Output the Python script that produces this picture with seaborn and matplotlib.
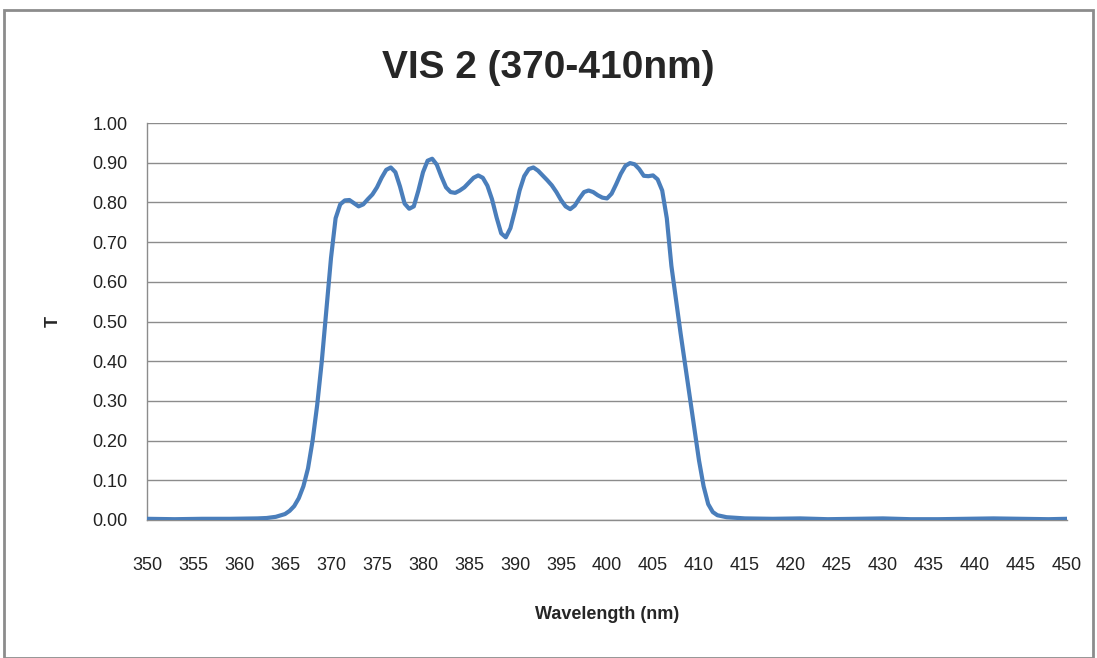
import matplotlib
matplotlib.use("Agg")
import matplotlib.pyplot as plt
import seaborn as sns
import pandas as pd
from matplotlib.patches import Rectangle

# ---- data ----
wavelength = [350, 353, 356, 359, 362, 363, 364, 365, 365.5, 366, 366.5, 367,
              367.5, 368, 368.5, 369, 369.5, 370, 370.5, 371, 371.5, 372, 372.5,
              373, 373.5, 374, 374.5, 375, 375.5, 376, 376.5, 377, 377.5, 378,
              378.5, 379, 379.5, 380, 380.5, 381, 381.5, 382, 382.5, 383, 383.5,
              384, 384.5, 385, 385.5, 386, 386.5, 387, 387.5, 388, 388.5, 389,
              389.5, 390, 390.5, 391, 391.5, 392, 392.5, 393, 393.5, 394, 394.5,
              395, 395.5, 396, 396.5, 397, 397.5, 398, 398.5, 399, 399.5, 400,
              400.5, 401, 401.5, 402, 402.5, 403, 403.5, 404, 404.5, 405, 405.5,
              406, 406.5, 407, 408, 409, 409.5, 410, 410.5, 411, 411.5, 412,
              413, 415, 418, 421, 424, 427, 430, 433, 436, 439, 442, 445, 448,
              450]
transmission = [0.003, 0.002, 0.003, 0.003, 0.004, 0.005, 0.008, 0.015, 0.023,
                0.035, 0.055, 0.085, 0.13, 0.20, 0.29, 0.40, 0.53, 0.66, 0.76,
                0.795, 0.805, 0.806, 0.798, 0.79, 0.795, 0.808, 0.82, 0.838,
                0.862, 0.882, 0.888, 0.876, 0.84, 0.797, 0.784, 0.79, 0.83,
                0.876, 0.905, 0.91, 0.895, 0.865, 0.838, 0.826, 0.824, 0.83,
                0.838, 0.85, 0.862, 0.868, 0.862, 0.842, 0.808, 0.762, 0.722,
                0.712, 0.735, 0.78, 0.83, 0.866, 0.884, 0.888, 0.88, 0.868,
                0.856, 0.843, 0.826, 0.806, 0.79, 0.783, 0.792, 0.81, 0.826,
                0.83, 0.826, 0.818, 0.812, 0.81, 0.822, 0.846, 0.872, 0.892,
                0.899, 0.896, 0.884, 0.867, 0.866, 0.868, 0.858, 0.83, 0.76,
                0.64, 0.47, 0.31, 0.23, 0.15, 0.085, 0.04, 0.02, 0.012, 0.007,
                0.004, 0.003, 0.004, 0.002, 0.003, 0.004, 0.002, 0.002, 0.003,
                0.004, 0.003, 0.002, 0.003]
x_ticks = list(range(350, 451, 5))
y_ticks = [0.0, 0.1, 0.2, 0.3, 0.4, 0.5, 0.6, 0.7, 0.8, 0.9, 1.0]

df = pd.DataFrame({"wl": wavelength, "T": transmission})

sns.set_style("white")
plt.rcParams['font.family'] = ['Liberation Sans Narrow', 'Liberation Sans', 'DejaVu Sans']

fig = plt.figure(figsize=(10.97, 6.58), dpi=100)
ax = fig.add_axes([147 / 1097, 1 - 520 / 658, 920 / 1097, 397 / 658])

sns.lineplot(data=df, x="wl", y="T", ax=ax, color="#4A7EBB", linewidth=3,
             solid_joinstyle="round", solid_capstyle="round", zorder=3)

ax.set_xlim(350, 450)
ax.set_ylim(0, 1.0)
ax.set_xticks(x_ticks)
ax.set_yticks(y_ticks)
ax.set_yticklabels([f"{v:.2f}" for v in y_ticks])
ax.tick_params(axis="both", length=0, labelsize=13, colors="#222222")
ax.tick_params(axis="x", pad=27)
ax.tick_params(axis="y", pad=14)
ax.grid(axis="y", color="#8c8c8c", linewidth=1)
ax.set_axisbelow(True)
for side in ["top", "right"]:
    ax.spines[side].set_visible(False)
for side in ["left", "bottom"]:
    ax.spines[side].set_color("#8c8c8c")
    ax.spines[side].set_linewidth(1)

ax.set_xlabel("Wavelength (nm)", fontsize=13, fontweight="bold", labelpad=23)
ax.set_ylabel("T", fontsize=13, fontweight="bold", labelpad=22)
fig.text(0.5, 1 - 68 / 658, "VIS 2 (370-410nm)", ha="center", va="center",
         fontsize=28, fontweight="bold")

# chart frame
fig.patches.append(Rectangle((4 / 1097, 0), 1089 / 1097, 1 - 10 / 658,
                             transform=fig.transFigure, fill=False,
                             edgecolor="#8c8c8c", linewidth=2))

fig.savefig("out.png", dpi=100)
